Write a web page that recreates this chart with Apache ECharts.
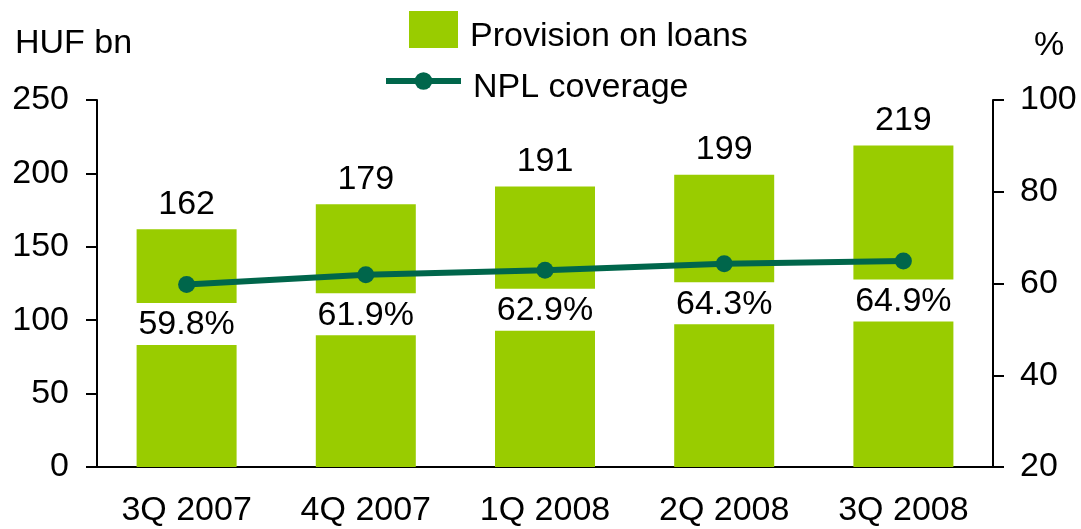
<!DOCTYPE html>
<html>
<head>
<meta charset="utf-8">
<script src="https://cdn.jsdelivr.net/npm/echarts@6/dist/echarts.min.js"></script>
<style>
  html, body { margin: 0; padding: 0; background: #fff; }
  #chart { width: 1081px; height: 529px; }
</style>
</head>
<body>
<div id="chart"></div>
<script>
// Quarterly data
const categories = ['3Q 2007', '4Q 2007', '1Q 2008', '2Q 2008', '3Q 2008'];
const provisionOnLoans = [162, 179, 191, 199, 219];   // HUF bn
const nplCoverage = [59.8, 61.9, 62.9, 64.3, 64.9];    // %
const leftTicks = { min: 0, max: 250, interval: 50 };
const rightTicks = { min: 20, max: 100, interval: 20 };

const FONT = '"Liberation Sans", Arial, sans-serif';
const FS = 34;
const BAR_GREEN = '#99CC00';
const LINE_GREEN = '#00664B';

const chart = echarts.init(document.getElementById('chart'), null, { renderer: 'canvas' });

const axisLineStyle = { color: '#000', width: 2 };
// legend labels sit a little below the middle of their keys
const legendText = {
  fontFamily: FONT, fontSize: FS, color: '#000',
  rich: { t: { fontFamily: FONT, fontSize: FS, color: '#000', padding: [14, 0, 0, 7] } }
};

chart.setOption({
  animation: false,
  backgroundColor: '#fff',
  textStyle: { fontFamily: FONT, color: '#000' },
  grid: { left: 97, right: 88, top: 100, bottom: 62, containLabel: false },
  legend: [
    {
      data: [{ name: 'Provision on loans', icon: 'rect' }],
      left: 409, top: 11, padding: 0,
      itemWidth: 49, itemHeight: 37,
      selectedMode: false,
      formatter: '{t|{name}}',
      textStyle: legendText
    },
    {
      data: [{ name: 'NPL coverage', lineStyle: { color: LINE_GREEN, width: 6 }, itemStyle: { color: LINE_GREEN } }],
      left: 383, top: 71, padding: 0,
      itemWidth: 75, itemHeight: 22,
      selectedMode: false,
      formatter: '{t|{name}}',
      textStyle: legendText
    }
  ],
  graphic: [
    {
      type: 'text', left: 15, top: 27,
      style: { text: 'HUF bn', font: FS + 'px ' + FONT, fill: '#000' }
    },
    {
      type: 'text', left: 1034, top: 29,
      style: { text: '%', font: FS + 'px ' + FONT, fill: '#000' }
    }
  ],
  xAxis: {
    type: 'category',
    data: categories,
    axisLine: { lineStyle: axisLineStyle },
    axisTick: { show: false },
    axisLabel: { fontFamily: FONT, fontSize: FS, color: '#000', margin: 27 },
    splitLine: { show: false }
  },
  yAxis: [
    {
      type: 'value',
      min: leftTicks.min, max: leftTicks.max, interval: leftTicks.interval,
      axisLine: { show: true, lineStyle: axisLineStyle },
      axisTick: { show: true, length: 11, lineStyle: axisLineStyle },
      axisLabel: { fontFamily: FONT, fontSize: FS, color: '#000', margin: 28 },
      splitLine: { show: false }
    },
    {
      type: 'value',
      position: 'right',
      min: rightTicks.min, max: rightTicks.max, interval: rightTicks.interval,
      axisLine: { show: true, lineStyle: axisLineStyle },
      axisTick: { show: true, length: 11, lineStyle: axisLineStyle },
      axisLabel: { fontFamily: FONT, fontSize: FS, color: '#000', margin: 27 },
      splitLine: { show: false }
    }
  ],
  series: [
    {
      name: 'Provision on loans',
      type: 'bar',
      yAxisIndex: 0,
      data: provisionOnLoans,
      barWidth: 100,
      itemStyle: { color: BAR_GREEN },
      label: {
        show: true, position: 'top', distance: 8,
        fontFamily: FONT, fontSize: FS, color: '#000'
      },
      z: 2
    },
    {
      name: 'NPL coverage',
      type: 'line',
      yAxisIndex: 1,
      data: nplCoverage,
      symbol: 'circle',
      symbolSize: 17,
      lineStyle: { color: LINE_GREEN, width: 6 },
      itemStyle: { color: LINE_GREEN },
      label: {
        show: true, position: 'bottom', distance: 10,
        formatter: (p) => p.value.toFixed(1) + '%',
        fontFamily: FONT, fontSize: FS, color: '#000',
        backgroundColor: '#fff',
        lineHeight: 34,
        padding: [5, 4, 3, 4]
      },
      z: 5
    }
  ]
});
</script>
</body>
</html>
